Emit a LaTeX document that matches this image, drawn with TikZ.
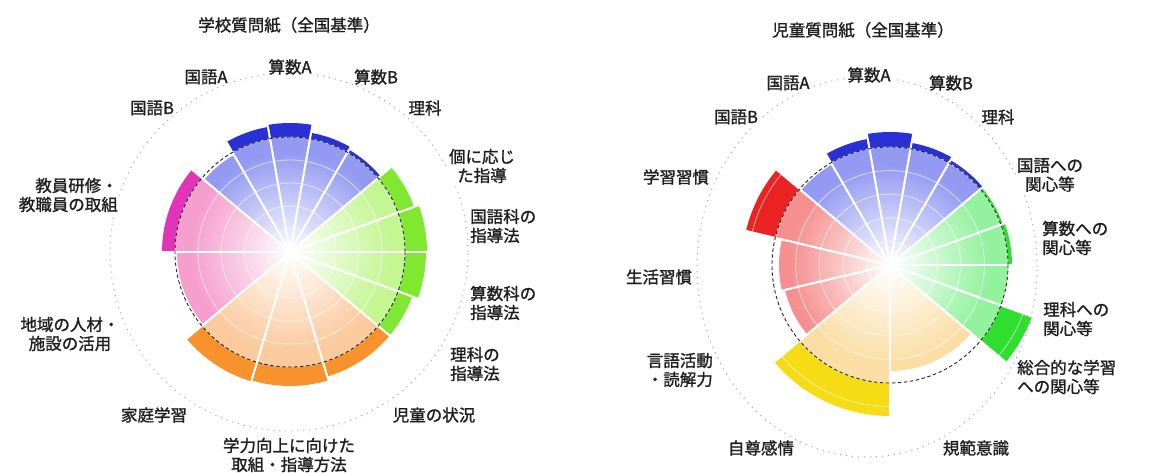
\documentclass[tikz,border=0pt]{standalone}
\usepackage{fontspec}
\newfontfamily\jp[FakeBold=1.3]{Noto Sans CJK JP}
\usetikzlibrary{fadings}
\definecolor{blueL}{RGB}{148,154,242}
\definecolor{blueD}{RGB}{40,48,214}
\definecolor{lgreenL}{RGB}{196,246,146}
\definecolor{lgreenD}{RGB}{128,232,48}
\definecolor{orangeL}{RGB}{251,202,158}
\definecolor{orangeD}{RGB}{247,146,44}
\definecolor{pinkL}{RGB}{246,158,206}
\definecolor{pinkD}{RGB}{226,52,184}
\definecolor{rgreenL}{RGB}{146,242,158}
\definecolor{rgreenD}{RGB}{48,222,48}
\definecolor{redL}{RGB}{246,144,144}
\definecolor{redD}{RGB}{234,34,34}
\definecolor{yelL}{RGB}{251,222,164}
\definecolor{yelD}{RGB}{246,220,20}
\tikzfading[name=centerglow, inner color=transparent!0, outer color=transparent!100]
\tikzset{
  lab/.style={font=\jp\fontsize{16.5pt}{19pt}\selectfont, text=black!88, fill=white, inner sep=1pt},
  ringline/.style={white, opacity=0.55, line width=0.9pt},
  spokeline/.style={white, line width=1.8pt},
  baseline/.style={black!85, dash pattern=on 3.5pt off 2.5pt, line width=0.9pt},
  dotring/.style={gray!75, line width=1pt, dash pattern=on 1pt off 5pt},
}
% #1 cx, #2 cy, #3 a1, #4 a2, #5 value, #6 R, #7 light, #8 dark
\newcommand{\wfill}[8]{%
  \begin{scope}[shift={(#1,#2)}]
    \pgfmathsetmacro{\lrad}{min(#5,#6)}
    \fill[#7] (0,0) -- (#3:\lrad) arc[start angle=#3,end angle=#4,radius=\lrad] -- cycle;
    \ifdim #5pt>#6pt
      \fill[#8] (#3:#6) arc[start angle=#3,end angle=#4,radius=#6] -- (#4:#5) arc[start angle=#4,end angle=#3,radius=#5] -- cycle;
    \fi
  \end{scope}}
% #1 cx, #2 cy, #3 a1, #4 a2, #5 value, #6 R
\newcommand{\wlines}[6]{%
  \begin{scope}[shift={(#1,#2)}]
    \foreach \k in {1,...,7}{%
      \pgfmathsetmacro{\rr}{\k*#6/5}
      \ifdim \rr pt<\dimexpr #5pt-1.5pt\relax
        \draw[ringline] (#3:\rr) arc[start angle=#3,end angle=#4,radius=\rr];
      \fi}
    \draw[spokeline] (0,0) -- (#3:#5);
    \draw[spokeline] (0,0) -- (#4:#5);
  \end{scope}}
\begin{document}
\begin{tikzpicture}[x=1pt,y=1pt]
\useasboundingbox (0,0) rectangle (1161,472);
\fill[white] (0,0) rectangle (1161,472);
% outer dotted rings
\draw[dotring] (289,220) circle[radius=179];
\draw[dotring] (867,205) ellipse[x radius=170, y radius=190];
% ---------- left chart ----------
\def\leftdata{40/60/118/blueL/blueD, 60/80/121/blueL/blueD, 80/100/129/blueL/blueD, 100/120/127/blueL/blueD, 120/140/112/blueL/blueD,
  140/180/128/pinkL/pinkD, 180/220/113/pinkL/pinkD,
  220/253.33/135/orangeL/orangeD, 253.33/286.67/134/orangeL/orangeD, 286.67/320/130/orangeL/orangeD,
  320/340/130/lgreenL/lgreenD, 340/360/136/lgreenL/lgreenD, 0/20/137/lgreenL/lgreenD, 20/40/132/lgreenL/lgreenD}
\foreach \a/\b/\v/\cl/\cd in \leftdata {\wfill{290}{220}{\a}{\b}{\v}{115}{\cl}{\cd}}
\fill[white, path fading=centerglow] (290,220) circle[radius=100];
\foreach \a/\b/\v/\cl/\cd in \leftdata {\wlines{290}{220}{\a}{\b}{\v}{115}}
\draw[baseline] (290,220) circle[radius=115];
% ---------- right chart ----------
\def\rightdata{40/60/121/blueL/blueD, 60/80/124/blueL/blueD, 80/100/133/blueL/blueD, 100/120/128/blueL/blueD, 120/140/116/blueL/blueD,
  140/166.67/148/redL/redD, 166.67/193.33/111/redL/redD, 193.33/220/108/redL/redD,
  220/270/151/yelL/yelD, 270/320/106/yelL/yelD,
  320/340/151/rgreenL/rgreenD, 340/360/118/rgreenL/rgreenD, 0/20/122/rgreenL/rgreenD, 20/40/120/rgreenL/rgreenD}
\foreach \a/\b/\v/\cl/\cd in \rightdata {\wfill{890}{207}{\a}{\b}{\v}{118}{\cl}{\cd}}
\fill[white, path fading=centerglow] (890,207) circle[radius=100];
\foreach \a/\b/\v/\cl/\cd in \rightdata {\wlines{890}{207}{\a}{\b}{\v}{118}}
\draw[baseline] (890,207) circle[radius=118];
% ---------- left labels ----------
\node[lab, fill=none] (t1) at (289,447) {学校質問紙（全国基準）};
\node[lab] (l1) at (152,364) {国語B};
\node[lab] (l2) at (206,395) {国語A};
\node[lab] (l3) at (290,405) {算数A};
\node[lab] (l4) at (376,395) {算数B};
\node[lab] (l5) at (425,364) {理科};
\node[lab, align=center] (l6) at (482,306) {個に応じ\\た指導};
\node[lab, align=left, anchor=west] (l7) at (469,246) {国語科の\\指導法};
\node[lab, align=left, anchor=west] (l8) at (469,169) {算数科の\\指導法};
\node[lab, align=left, anchor=west] (l9) at (449,108) {理科の\\指導法};
\node[lab] (l10) at (434,57) {児童の状況};
\node[lab, align=center] (l11) at (289,17) {学力向上に向けた\\取組・指導方法};
\node[lab] (l12) at (154,57) {家庭学習};
\node[lab, align=center] (l13) at (70,138) {地域の人材・\\施設の活用};
\node[lab, align=right, anchor=east] (l14) at (119,277) {教員研修・\\教職員の取組};
% ---------- right labels ----------
\node[lab, fill=none] (t2) at (863,442) {児童質問紙（全国基準）};
\node[lab] (r1) at (736,355) {国語B};
\node[lab] (r2) at (788,389) {国語A};
\node[lab] (r3) at (869,397) {算数A};
\node[lab] (r4) at (951,389) {算数B};
\node[lab] (r5) at (998,355) {理科};
\node[lab, align=center] (r6) at (1050,297) {国語への\\関心等};
\node[lab, align=left, anchor=west] (r7) at (1041,234) {算数への\\関心等};
\node[lab, align=left, anchor=west] (r8) at (1042,153) {理科への\\関心等};
\node[lab, align=left, anchor=west] (r9) at (1016,95) {総合的な学習\\への関心等};
\node[lab] (r10) at (976,24) {規範意識};
\node[lab] (r11) at (761,24) {自尊感情};
\node[lab, align=right, anchor=east] (r12) at (714,102) {言語活動\\・読解力};
\node[lab] (r13) at (659,195) {生活習慣};
\node[lab] (r14) at (676,295) {学習習慣};
\end{tikzpicture}
\end{document}
